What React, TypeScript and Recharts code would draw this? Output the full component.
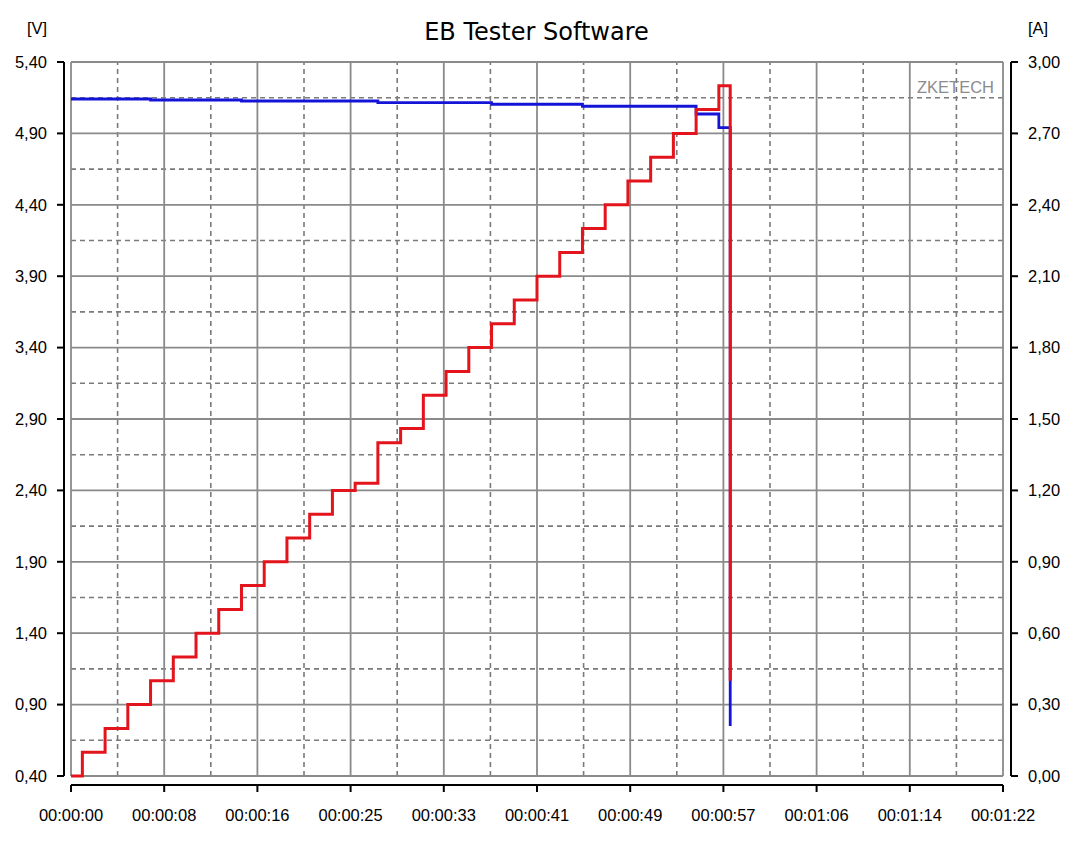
import { LineChart, Line, XAxis, YAxis, ReferenceLine } from 'recharts';

// time in seconds
const times = [0, 1, 3, 5, 7, 9, 11, 13, 15, 17, 19, 21, 23, 25, 27, 29, 31, 33, 35, 37, 39, 41, 43, 45, 47, 49, 51, 53, 55, 57, 58];

// voltage [V]
const voltage = [
  5.141, 5.141, 5.141, 5.141, 5.134, 5.134, 5.134, 5.134, 5.127, 5.127, 5.127, 5.127, 5.127, 5.127,
  5.115, 5.115, 5.115, 5.115, 5.115, 5.104, 5.104, 5.104, 5.104, 5.09, 5.09, 5.09, 5.09, 5.09,
  5.036, 4.94, 0.75,
];

// current [A]
const current = [
  0.0, 0.1, 0.2, 0.3, 0.4, 0.5, 0.6, 0.7, 0.8, 0.9, 1.0, 1.1, 1.2, 1.23, 1.4, 1.46, 1.6, 1.7, 1.8,
  1.9, 2.0, 2.1, 2.2, 2.3, 2.4, 2.5, 2.6, 2.7, 2.8, 2.9, 0.4,
];

const xTicks = [0, 8.2, 16.4, 24.6, 32.8, 41, 49.2, 57.4, 65.6, 73.8, 82];
const xTickLabels = ['00:00:00', '00:00:08', '00:00:16', '00:00:25', '00:00:33', '00:00:41', '00:00:49', '00:00:57', '00:01:06', '00:01:14', '00:01:22'];
const xMinor = [4.1, 12.3, 20.5, 28.7, 36.9, 45.1, 53.3, 61.5, 69.7, 77.9];

const vTicks = [0.4, 0.9, 1.4, 1.9, 2.4, 2.9, 3.4, 3.9, 4.4, 4.9, 5.4];
const vTickLabels = ['0,40', '0,90', '1,40', '1,90', '2,40', '2,90', '3,40', '3,90', '4,40', '4,90', '5,40'];
const vMinor = [0.65, 1.15, 1.65, 2.15, 2.65, 3.15, 3.65, 4.15, 4.65, 5.15];

const aTicks = [0, 0.3, 0.6, 0.9, 1.2, 1.5, 1.8, 2.1, 2.4, 2.7, 3.0];
const aTickLabels = ['0,00', '0,30', '0,60', '0,90', '1,20', '1,50', '1,80', '2,10', '2,40', '2,70', '3,00'];

const data = times.map((t, i) => ({ t, v: voltage[i], a: current[i] }));

const labelOf = (ticks: number[], labels: string[]) => (val: number) => {
  const i = ticks.findIndex((x) => Math.abs(x - val) < 1e-6);
  return i >= 0 ? labels[i] : '';
};

const tickStyle = { fill: '#000', fontSize: 16.5 };

const App = () => {
  return (
    <div
      style={{
        position: 'absolute',
        left: 0,
        top: 0,
        width: 1080,
        height: 847,
        background: '#fff',
        fontFamily: '"Liberation Sans", Arial, sans-serif',
      }}
    >
      <LineChart
        width={1080}
        height={847}
        data={data}
        margin={{ top: 62, right: 17, bottom: 31, left: 11 }}
      >
        <XAxis
          dataKey="t"
          type="number"
          domain={[0, 82]}
          ticks={xTicks}
          interval={0}
          tickFormatter={labelOf(xTicks, xTickLabels)}
          height={40}
          tickSize={7}
          tickMargin={26}
          axisLine={{ stroke: '#000', strokeWidth: 2, transform: 'translate(0,9)' }}
          tickLine={{ stroke: '#000', strokeWidth: 2, transform: 'translate(0,9)' }}
          tick={tickStyle}
        />
        <YAxis
          yAxisId="v"
          domain={[0.4, 5.4]}
          ticks={vTicks}
          interval={0}
          tickFormatter={labelOf(vTicks, vTickLabels)}
          width={60}
          tickSize={7}
          tickMargin={17}
          axisLine={{ stroke: '#000', strokeWidth: 2, transform: 'translate(-7,0)' }}
          tickLine={{ stroke: '#000', strokeWidth: 2, transform: 'translate(-7,0)' }}
          tick={tickStyle}
        />
        <YAxis
          yAxisId="a"
          orientation="right"
          domain={[0, 3]}
          ticks={aTicks}
          interval={0}
          tickFormatter={labelOf(aTicks, aTickLabels)}
          width={60}
          tickSize={7}
          tickMargin={18}
          axisLine={{ stroke: '#000', strokeWidth: 2, transform: 'translate(8,0)' }}
          tickLine={{ stroke: '#000', strokeWidth: 2, transform: 'translate(8,0)' }}
          tick={tickStyle}
        />

        {vMinor.map((y) => (
          <ReferenceLine
            key={'hm' + y}
            yAxisId="v"
            segment={[{ x: 0, y }, { x: 82, y }]}
            stroke="#7a7a7a"
            strokeWidth={1.6}
            strokeDasharray="5 4"
          />
        ))}
        {xMinor.map((x) => (
          <ReferenceLine
            key={'vm' + x}
            yAxisId="v"
            segment={[{ x, y: 0.4 }, { x, y: 5.4 }]}
            stroke="#7a7a7a"
            strokeWidth={1.6}
            strokeDasharray="5 4"
          />
        ))}
        {vTicks.map((y) => (
          <ReferenceLine
            key={'h' + y}
            yAxisId="v"
            segment={[{ x: 0, y }, { x: 82, y }]}
            stroke="#8a8a8a"
            strokeWidth={1.8}
          />
        ))}
        {xTicks.map((x) => (
          <ReferenceLine
            key={'v' + x}
            yAxisId="v"
            segment={[{ x, y: 0.4 }, { x, y: 5.4 }]}
            stroke="#8a8a8a"
            strokeWidth={1.8}
          />
        ))}

        <Line
          yAxisId="v"
          type="stepAfter"
          dataKey="v"
          stroke="#1414d8"
          strokeWidth={2.8}
          dot={false}
          activeDot={false}
          isAnimationActive={false}
        />
        <Line
          yAxisId="a"
          type="stepAfter"
          dataKey="a"
          stroke="#e4141c"
          strokeWidth={3}
          dot={false}
          activeDot={false}
          isAnimationActive={false}
        />
      </LineChart>

      <svg
        width={1080}
        height={847}
        style={{ position: 'absolute', left: 0, top: 0, pointerEvents: 'none' }}
      >
        <text x={536.5} y={39.5} textAnchor="middle" fontFamily="DejaVu Sans" fontSize={24} fill="#000">
          EB Tester Software
        </text>
        <text x={27} y={33.5} fontSize={16.5} fill="#000">[V]</text>
        <text x={1028} y={33.5} fontSize={16.5} fill="#000">[A]</text>
        <text x={917} y={93.3} fontSize={16.5} fill="#8c8c8c">ZKETECH</text>
      </svg>
    </div>
  );
};

export default App;
